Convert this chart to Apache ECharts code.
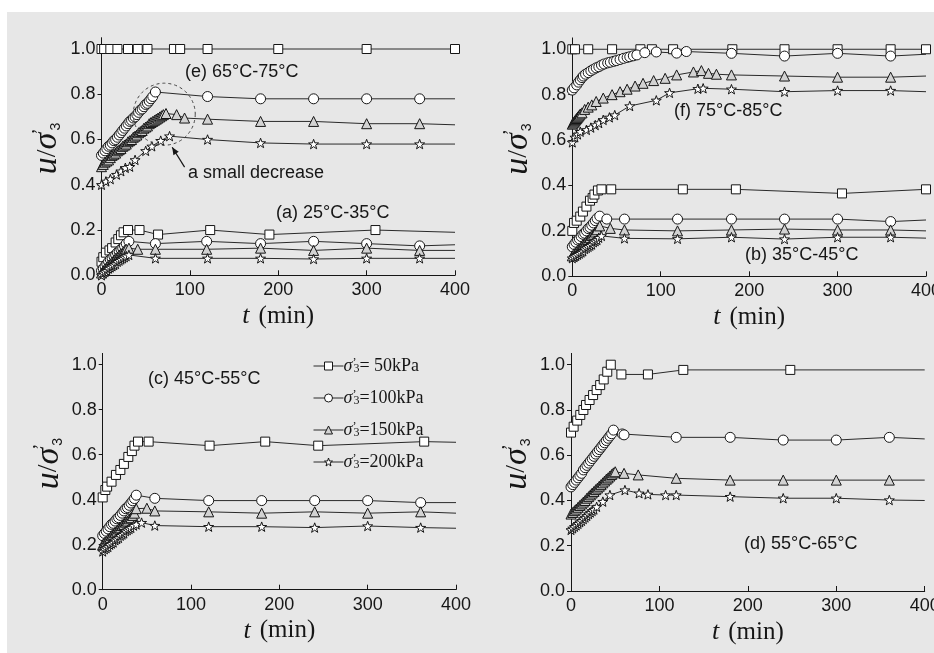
<!DOCTYPE html>
<html>
<head>
<meta charset="utf-8">
<script src="https://cdn.jsdelivr.net/npm/echarts@6/dist/echarts.min.js"></script>
<style>
html,body{margin:0;padding:0;background:#fff}
#chart{width:934px;height:653px}
</style>
</head>
<body>
<div id="chart"></div>
<script>
// Pore pressure ratio u/σ'3 versus time t (min) for each heating stage.
// Each array holds [t, u/σ'3] pairs.

// (e) 65°C-75°C
const e50 = [[0,1.0],[3,1.0],[10,1.0],[18,1.0],[30,1.0],[41,1.0],[52,1.0],[82,1.0],[89,1.0],[120,1.0],[200,1.0],[300,1.0],[400,1.0]];
const e100 = [[0,0.53],[2,0.54],[4,0.55],[6,0.56],[8,0.57],[10,0.575],[12,0.585],[14,0.595],[16,0.60],[18,0.61],[20,0.62],[22,0.63],[24,0.64],[26,0.65],[28,0.66],[30,0.67],[32,0.68],[34,0.685],[36,0.695],[38,0.70],[40,0.71],[42,0.72],[44,0.73],[46,0.735],[48,0.745],[50,0.755],[52,0.76],[54,0.77],[56,0.78],[58,0.79],[61,0.81],[120,0.79],[180,0.78],[240,0.78],[300,0.78],[360,0.78],[400,0.78]];
const e150 = [[0,0.48],[2,0.49],[4,0.50],[6,0.505],[8,0.51],[10,0.52],[12,0.53],[14,0.535],[16,0.54],[18,0.55],[20,0.555],[22,0.56],[24,0.57],[26,0.575],[28,0.58],[30,0.59],[32,0.595],[34,0.60],[36,0.61],[38,0.615],[40,0.62],[42,0.63],[44,0.635],[46,0.64],[48,0.65],[50,0.655],[52,0.66],[54,0.67],[56,0.675],[58,0.68],[60,0.685],[62,0.69],[64,0.695],[66,0.70],[68,0.705],[70,0.71],[73,0.715],[85,0.71],[94,0.695],[120,0.69],[180,0.68],[240,0.68],[300,0.67],[360,0.67],[400,0.665]];
const e200 = [[0,0.40],[5,0.415],[10,0.425],[17,0.445],[22,0.46],[27,0.475],[32,0.48],[38,0.51],[50,0.55],[57,0.57],[67,0.595],[77,0.615],[120,0.60],[180,0.585],[240,0.58],[300,0.58],[360,0.58],[400,0.58]];

// (a) 25°C-35°C
const a50 = [[0,0.06],[2,0.08],[5,0.10],[9,0.11],[12,0.12],[16,0.145],[19,0.16],[22,0.177],[25,0.19],[30,0.20],[43,0.20],[64,0.18],[123,0.20],[190,0.18],[310,0.20],[400,0.19]];
const a100 = [[0,0.02],[2,0.03],[4,0.04],[6,0.05],[8,0.06],[10,0.07],[12,0.075],[14,0.085],[16,0.09],[18,0.10],[20,0.105],[22,0.115],[24,0.12],[26,0.13],[28,0.14],[31,0.15],[61,0.14],[119,0.15],[180,0.14],[240,0.15],[300,0.14],[360,0.13],[400,0.135]];
const a150 = [[0,0.01],[2,0.02],[4,0.03],[6,0.035],[8,0.045],[10,0.05],[12,0.06],[14,0.065],[16,0.075],[18,0.08],[20,0.09],[22,0.095],[24,0.10],[26,0.11],[28,0.115],[31,0.12],[41,0.115],[61,0.115],[119,0.115],[180,0.12],[240,0.11],[300,0.12],[360,0.11],[400,0.11]];
const a200 = [[0,0.0],[2,0.01],[4,0.015],[6,0.02],[8,0.03],[10,0.035],[12,0.04],[14,0.045],[16,0.05],[18,0.06],[20,0.065],[22,0.07],[24,0.075],[26,0.08],[28,0.085],[31,0.09],[61,0.075],[120,0.075],[180,0.075],[240,0.072],[300,0.075],[360,0.075],[400,0.075]];

// (f) 75°C-85°C
const f50 = [[0,1.0],[3,1.0],[18,1.0],[45,1.0],[77,1.0],[90,1.0],[114,1.0],[181,1.0],[240,1.0],[300,1.0],[360,1.0],[400,1.0]];
const f100 = [[0,0.82],[2,0.83],[5,0.843],[7,0.855],[9,0.865],[11,0.875],[12.5,0.882],[15,0.89],[18,0.897],[21,0.905],[24,0.912],[27,0.918],[30,0.923],[33,0.93],[36,0.935],[40,0.94],[43,0.943],[47,0.947],[50,0.95],[54,0.955],[58,0.96],[62,0.964],[65,0.967],[69,0.971],[73,0.975],[82,0.985],[95,0.988],[118,0.983],[129,0.99],[180,0.982],[240,0.97],[300,0.982],[360,0.97],[400,0.978]];
const f150 = [[0,0.67],[1,0.675],[2,0.68],[3,0.685],[4,0.69],[5,0.695],[6,0.70],[7,0.705],[8,0.71],[9,0.715],[11,0.72],[14,0.735],[18,0.745],[22,0.755],[27,0.77],[35,0.785],[45,0.80],[54,0.813],[62,0.824],[71,0.838],[80,0.85],[92,0.862],[105,0.872],[118,0.887],[137,0.90],[146,0.906],[154,0.894],[163,0.89],[180,0.887],[240,0.882],[300,0.877],[360,0.877],[400,0.882]];
const f200 = [[0,0.59],[3,0.612],[6,0.625],[9,0.637],[16,0.645],[21,0.655],[26,0.666],[30,0.675],[35,0.689],[42,0.70],[48,0.71],[65,0.75],[95,0.775],[110,0.808],[142,0.826],[148,0.828],[180,0.824],[240,0.813],[300,0.818],[360,0.818],[400,0.813]];

// (b) 35°C-45°C
const b50 = [[0,0.20],[2,0.235],[5,0.245],[9,0.263],[12,0.285],[16,0.307],[20,0.333],[23,0.345],[25,0.36],[29,0.378],[33,0.383],[44,0.383],[125,0.383],[185,0.383],[305,0.365],[400,0.383]];
const b100 = [[0,0.13],[2,0.14],[4,0.15],[6,0.16],[8,0.165],[10,0.175],[12,0.185],[14,0.19],[16,0.20],[18,0.21],[20,0.215],[22,0.225],[24,0.235],[26,0.245],[28,0.255],[31,0.265],[39,0.252],[59,0.252],[119,0.252],[180,0.252],[240,0.252],[300,0.252],[360,0.241],[400,0.248]];
const b150 = [[0,0.09],[2,0.10],[4,0.105],[6,0.115],[8,0.12],[10,0.13],[12,0.14],[14,0.145],[16,0.155],[18,0.16],[20,0.17],[22,0.18],[24,0.185],[26,0.195],[28,0.205],[31,0.222],[43,0.211],[59,0.204],[119,0.20],[180,0.204],[240,0.208],[300,0.204],[360,0.204],[400,0.20]];
const b200 = [[0,0.08],[2,0.085],[4,0.09],[6,0.095],[8,0.10],[10,0.105],[12,0.11],[14,0.12],[16,0.125],[18,0.13],[20,0.135],[22,0.14],[24,0.15],[26,0.155],[28,0.16],[30,0.17],[33,0.178],[59,0.167],[119,0.165],[180,0.172],[240,0.164],[300,0.172],[360,0.172],[400,0.168]];

// (c) 45°C-55°C
const c50 = [[0,0.41],[3,0.443],[5,0.458],[10,0.48],[15,0.51],[20,0.532],[24,0.559],[29,0.59],[33,0.616],[36,0.64],[40,0.658],[52,0.658],[121,0.64],[184,0.658],[244,0.64],[364,0.658],[400,0.655]];
const c100 = [[0,0.24],[2,0.25],[4,0.26],[6,0.27],[8,0.28],[10,0.29],[12,0.295],[14,0.305],[16,0.315],[18,0.32],[20,0.33],[22,0.34],[24,0.35],[26,0.36],[28,0.365],[30,0.375],[32,0.385],[34,0.395],[36,0.405],[38,0.42],[59,0.406],[120,0.396],[180,0.396],[240,0.396],[300,0.396],[360,0.387],[400,0.387]];
const c150 = [[0,0.20],[2,0.21],[4,0.215],[6,0.225],[8,0.23],[10,0.24],[12,0.245],[14,0.255],[16,0.26],[18,0.27],[20,0.275],[22,0.285],[24,0.29],[26,0.30],[28,0.305],[30,0.315],[32,0.32],[34,0.33],[36,0.34],[38,0.36],[50,0.362],[59,0.35],[120,0.346],[180,0.34],[240,0.346],[300,0.34],[360,0.346],[400,0.34]];
const c200 = [[0,0.17],[2,0.18],[4,0.185],[6,0.19],[8,0.20],[10,0.205],[12,0.21],[14,0.22],[16,0.225],[18,0.23],[20,0.24],[22,0.245],[24,0.25],[26,0.26],[28,0.265],[30,0.27],[32,0.275],[35,0.285],[38,0.29],[44,0.298],[59,0.285],[120,0.28],[180,0.28],[240,0.276],[300,0.283],[360,0.276],[400,0.273]];

// (d) 55°C-65°C
const d50 = [[0,0.70],[3,0.726],[7,0.753],[10.5,0.778],[14,0.80],[17,0.822],[21,0.844],[25,0.866],[29,0.888],[33,0.91],[37,0.935],[41,0.969],[45,1.0],[57,0.957],[87,0.957],[127,0.977],[248,0.977],[400,0.977]];
const d100 = [[0,0.46],[2,0.47],[4,0.48],[6,0.49],[8,0.50],[10,0.51],[12,0.52],[14,0.535],[16,0.545],[18,0.555],[20,0.565],[22,0.575],[24,0.585],[26,0.595],[28,0.605],[30,0.615],[32,0.625],[34,0.635],[36,0.645],[38,0.655],[40,0.665],[42,0.675],[44,0.685],[46,0.695],[48,0.711],[58,0.694],[60,0.69],[119,0.679],[180,0.679],[240,0.667],[300,0.667],[360,0.679],[400,0.672]];
const d150 = [[0,0.34],[2,0.347],[4,0.355],[6,0.362],[8,0.37],[10,0.378],[12,0.385],[14,0.393],[16,0.40],[18,0.41],[20,0.417],[22,0.425],[24,0.433],[26,0.44],[28,0.448],[30,0.455],[32,0.463],[34,0.47],[36,0.478],[38,0.486],[40,0.494],[42,0.50],[44,0.508],[46,0.515],[48,0.522],[50,0.527],[60,0.52],[76,0.513],[119,0.498],[180,0.49],[240,0.49],[300,0.49],[360,0.49],[400,0.49]];
const d200 = [[0,0.27],[2,0.277],[4,0.284],[6,0.29],[8,0.297],[10,0.304],[12,0.31],[14,0.318],[16,0.325],[18,0.332],[20,0.34],[22,0.347],[24,0.354],[26,0.36],[29,0.372],[36,0.395],[44,0.424],[61,0.446],[77,0.432],[87,0.427],[107,0.424],[119,0.424],[180,0.417],[240,0.41],[300,0.41],[360,0.402],[400,0.40]];

// Axis ticks
const timeTicks = [0, 100, 200, 300, 400];
const ratioTicks = [0, 0.2, 0.4, 0.6, 0.8, 1.0];

// Confining pressure levels (legend)
const pressureKeys = ['p50', 'p100', 'p150', 'p200'];
const pressureLabels = ['= 50kPa', '=100kPa', '=150kPa', '=200kPa'];

// Stage labels
const stageLabels = ['(e) 65°C-75°C', '(a) 25°C-35°C', '(f) 75°C-85°C', '(b) 35°C-45°C', '(c) 45°C-55°C', '(d) 55°C-65°C'];
const noteLabel = 'a small decrease';

// ---------- drawing ----------
const SANS = 'Liberation Sans, Arial, sans-serif';
const SERIF = 'Liberation Serif, Times New Roman, serif';
const INK = '#161616';

const STAR = 'path://M0,-10L2.35,-3.24L9.51,-3.09L3.8,1.24L5.88,8.09L0,4L-5.88,8.09L-3.8,1.24L-9.51,-3.09L-2.35,-3.24Z';
const markers = {
  p50:  {symbol: 'rect', size: 9, fill: '#ffffff'},
  p100: {symbol: 'circle', size: 10, fill: '#ffffff'},
  p150: {symbol: 'triangle', size: 10, fill: '#d2d2d2'},
  p200: {symbol: STAR, size: 10, fill: '#ffffff'}
};

// panels: grid index -> groups of four series (50/100/150/200 kPa)
const panels = [
  {grid: 0, groups: [[e50, e100, e150, e200], [a50, a100, a150, a200]], endMarked: [e50]},
  {grid: 1, groups: [[f50, f100, f150, f200], [b50, b100, b150, b200]], endMarked: [f50, b50]},
  {grid: 2, groups: [[c50, c100, c150, c200]], endMarked: []},
  {grid: 3, groups: [[d50, d100, d150, d200]], endMarked: []}
];

const gridBox = {outerBoundsMode: 'none', containLabel: false};
const grids = [
  {left: 101.5, top: 37.7, width: 353.5, height: 237.6, ...gridBox},
  {left: 572.3, top: 37.9, width: 353.7, height: 238.4, ...gridBox},
  {left: 102.7, top: 353.4, width: 353.3, height: 236.3, ...gridBox},
  {left: 571, top: 353.4, width: 353.7, height: 237.6, ...gridBox}
];

const xAxes = grids.map((g, i) => ({
  type: 'value', gridIndex: i, min: 0, max: 400, interval: 100,
  axisLine: {lineStyle: {color: INK, width: 1}},
  axisTick: {inside: true, length: 5, lineStyle: {color: INK}},
  axisLabel: {color: INK, fontFamily: SANS, fontSize: 18, margin: 6,
    customValues: timeTicks},
  splitLine: {show: false},
  name: '{t|t}{m|(min)}', nameLocation: 'middle', nameGap: 28,
  nameTextStyle: {
    rich: {
      t: {fontFamily: SERIF, fontStyle: 'italic', fontSize: 26, color: INK, padding: [0, 9, 0, 0]},
      m: {fontFamily: SERIF, fontSize: 25, color: INK}
    }
  }
}));

const yName = '{u|u}{sl|/}{s|σ}{p|\u2019}{b|3}';
const yAxes = grids.map((g, i) => ({
  type: 'value', gridIndex: i, min: 0, max: 1.05,
  axisLine: {show: true, lineStyle: {color: INK, width: 1}},
  axisTick: {show: true, inside: false, length: 4, lineStyle: {color: INK}, customValues: ratioTicks},
  axisLabel: {color: INK, fontFamily: SANS, fontSize: 18, margin: 6,
    customValues: ratioTicks, formatter: v => v.toFixed(1)},
  splitLine: {show: false},
  name: yName, nameLocation: 'middle', nameRotate: 90, nameGap: 38,
  nameTextStyle: {
    padding: [0, 0, 0, 16],
    rich: {
      u: {fontFamily: SERIF, fontStyle: 'italic', fontSize: 34, color: INK, lineHeight: 32},
      sl: {fontFamily: SERIF, fontSize: 28, color: INK, lineHeight: 32},
      s: {fontFamily: SERIF, fontStyle: 'italic', fontSize: 34, color: INK, lineHeight: 32},
      p: {fontFamily: SERIF, fontSize: 18, color: INK, verticalAlign: 'top', lineHeight: 14, width: 2},
      b: {fontFamily: SANS, fontSize: 14, color: INK, verticalAlign: 'bottom', lineHeight: 14}
    }
  }
}));

const series = [];
panels.forEach(panel => {
  panel.groups.forEach(group => {
    group.forEach((pts, k) => {
      const key = pressureKeys[k];
      const m = markers[key];
      const marked = panel.endMarked.includes(pts);
      const data = pts.map((p, j) =>
        (j === pts.length - 1 && !marked) ? {value: p, symbol: 'none'} : p);
      series.push({
        type: 'line', name: key,
        xAxisIndex: panel.grid, yAxisIndex: panel.grid,
        data,
        symbol: m.symbol, symbolSize: m.size, symbolKeepAspect: true,
        showSymbol: true,
        lineStyle: {color: '#2a2a2a', width: 1},
        itemStyle: {color: m.fill, borderColor: INK, borderWidth: 1},
        emphasis: {disabled: true},
        silent: true,
        animation: false
      });
    });
  });
});

const chart = echarts.init(document.getElementById('chart'), null, {renderer: 'canvas'});

chart.setOption({
  backgroundColor: '#ffffff',
  animation: false,
  grid: grids,
  xAxis: xAxes,
  yAxis: yAxes,
  legend: {
    data: pressureKeys,
    orient: 'vertical',
    left: 308, top: 352,
    itemWidth: 30, itemHeight: 10, itemGap: 14,
    selectedMode: false,
    itemStyle: {borderColor: INK, borderWidth: 1},
    lineStyle: {color: '#2a2a2a', width: 1},
    formatter: name => '{s|σ}{p|\u2019}{b|3}{t|' + pressureLabels[pressureKeys.indexOf(name)] + '}',
    textStyle: {
      padding: [0, 0, 0, -5],
      rich: {
        s: {fontFamily: SERIF, fontStyle: 'italic', fontSize: 18, color: INK, lineHeight: 18},
        p: {fontFamily: SERIF, fontSize: 12, color: INK, verticalAlign: 'top', lineHeight: 9, width: 1},
        b: {fontFamily: SERIF, fontSize: 12, color: INK, verticalAlign: 'bottom', lineHeight: 10},
        t: {fontFamily: SERIF, fontSize: 18, color: INK, lineHeight: 18}
      }
    }
  },
  series
});

// annotations: stage captions, dashed ring around the peak and arrow to it
const ring = chart.convertToPixel({gridIndex: 0}, [71, 0.712]);
const tip = chart.convertToPixel({gridIndex: 0}, [80, 0.566]);
const tail = chart.convertToPixel({gridIndex: 0}, [94, 0.478]);
const ang = Math.atan2(tip[1] - tail[1], tip[0] - tail[0]);
const head = (da, len) => [tip[0] - len * Math.cos(ang + da), tip[1] - len * Math.sin(ang + da)];

const captionPos = [[185, 72], [276, 213], [674, 111], [745, 255], [148, 379], [744, 544]];
const caption = (txt, x, y) => ({
  type: 'text', x, y, z: 20, silent: true,
  style: {text: txt, fill: INK, font: '18px ' + SANS, textVerticalAlign: 'middle'}
});

chart.setOption({
  graphic: [
    {type: 'rect', z: -100, silent: true, shape: {x: 7, y: 12, width: 927, height: 641},
      style: {fill: '#e7e7e7'}},
    ...stageLabels.map((t, i) => caption(t, captionPos[i][0], captionPos[i][1])),
    caption(noteLabel, 188, 173),
    {type: 'circle', z: 20, silent: true, shape: {cx: ring[0], cy: ring[1], r: 31},
      style: {fill: 'none', stroke: '#444', lineWidth: 1, lineDash: [3, 3]}},
    {type: 'line', z: 20, silent: true,
      shape: {x1: tail[0], y1: tail[1], x2: tip[0], y2: tip[1]},
      style: {stroke: INK, lineWidth: 1.2}},
    {type: 'polygon', z: 20, silent: true,
      shape: {points: [tip, head(0.4, 8), head(-0.4, 8)]},
      style: {fill: INK}}
  ]
});
</script>
</body>
</html>
